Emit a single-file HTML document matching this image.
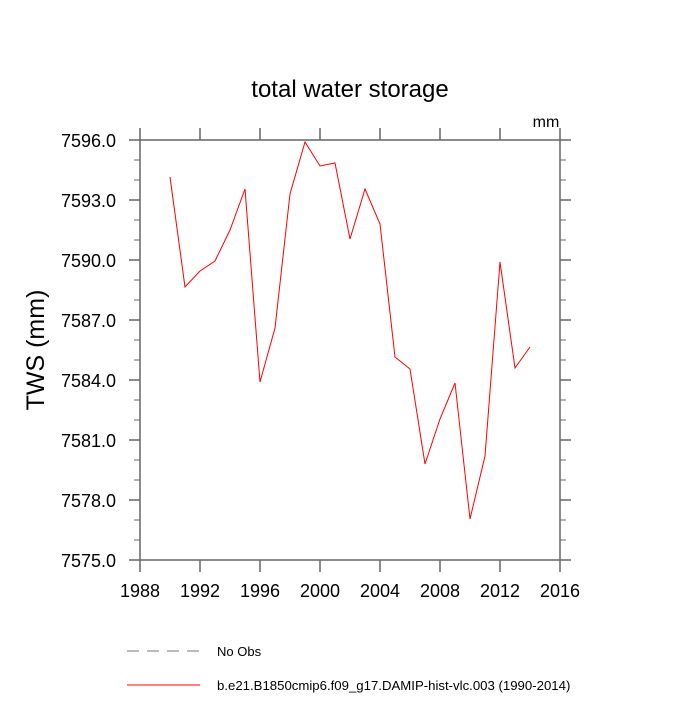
<!DOCTYPE html>
<html><head><meta charset="utf-8"><style>
body{margin:0;background:#fff}
svg text{font-family:"Liberation Sans",sans-serif;fill:#000}
</style></head><body>
<svg id="chart" width="700" height="700" viewBox="0 0 700 700">
<text x="350" y="97" font-size="24" text-anchor="middle">total water storage</text>
<text x="546" y="127" font-size="16" text-anchor="middle">mm</text>
<text transform="translate(44,350) rotate(-90)" font-size="25" text-anchor="middle">TWS  (mm)</text>
<g id="axes"></g>
<g id="series"></g>
<g>
<line x1="127" y1="651" x2="200" y2="651" stroke="#777" stroke-width="1" stroke-dasharray="12,8"/>
<text x="217" y="656" font-size="13">No Obs</text>
<line x1="127" y1="685" x2="200" y2="685" stroke="red" stroke-width="1"/>
<text x="217" y="690" font-size="13.2">b.e21.B1850cmip6.f09_g17.DAMIP-hist-vlc.003 (1990-2014)</text>
</g>
</svg>
<script>
const years=[1990,1991,1992,1993,1994,1995,1996,1997,1998,1999,2000,2001,2002,2003,2004,2005,2006,2007,2008,2009,2010,2011,2012,2013,2014];
const tws=[7594.15,7588.65,7589.45,7589.95,7591.5,7593.55,7583.9,7586.6,7593.3,7595.9,7594.7,7594.85,7591.05,7593.55,7591.8,7585.15,7584.55,7579.8,7582.05,7583.85,7577.05,7580.2,7589.9,7584.6,7585.65];
const xTicks=[1988,1992,1996,2000,2004,2008,2012,2016];
const yTicks=[7575,7578,7581,7584,7587,7590,7593,7596];
const X0=140,X1=560,Y0=560,Y1=140,xmin=1988,xmax=2016,ymin=7575,ymax=7596;
const sx=v=>X0+(v-xmin)/(xmax-xmin)*(X1-X0);
const sy=v=>Y0-(v-ymin)/(ymax-ymin)*(Y0-Y1);
const NS='http://www.w3.org/2000/svg';
const axes=document.getElementById('axes');
function mk(tag,attrs,parent){const e=document.createElementNS(NS,tag);for(const k in attrs)e.setAttribute(k,attrs[k]);parent.appendChild(e);return e;}
const fr=mk('rect',{x:X0,y:Y1,width:X1-X0,height:Y0-Y1,fill:'none',stroke:'#666','stroke-width':1.5},axes);


xTicks.forEach(t=>{
 const x=sx(t);
 const b=mk('line',{x1:x,y1:Y0,x2:x,y2:Y0+12,stroke:'#666','stroke-width':1.5},axes);
 
 
 const tp=mk('line',{x1:x,y1:Y1,x2:x,y2:Y1-12,stroke:'#666','stroke-width':1.5},axes);
 
 
 const l=mk('text',{x:x,y:Y0+37,'font-size':18,'text-anchor':'middle'},axes);
 l.textContent=t;
 
 
});
for(let v=ymin;v<=ymax;v++){
 const y=sy(v);const major=yTicks.includes(v);const len=major?11:6;
 const a=mk('line',{x1:X0,y1:y,x2:X0-len,y2:y,stroke:'#666','stroke-width':major?1.5:1},axes);
 
 
 const r=mk('line',{x1:X1,y1:y,x2:X1+len,y2:y,stroke:'#666','stroke-width':major?1.5:1},axes);
 
 
}
yTicks.forEach(t=>{
 const l=mk('text',{x:X0-24,y:sy(t)+7,'font-size':18,'text-anchor':'end'},axes);
 l.textContent=t.toFixed(1);
 
 
});
const pl=mk('polyline',{points:years.map((y,i)=>sx(y)+','+sy(tws[i])).join(' '),fill:'none',stroke:'red','stroke-width':1},document.getElementById('series'));


</script>
</body></html>
